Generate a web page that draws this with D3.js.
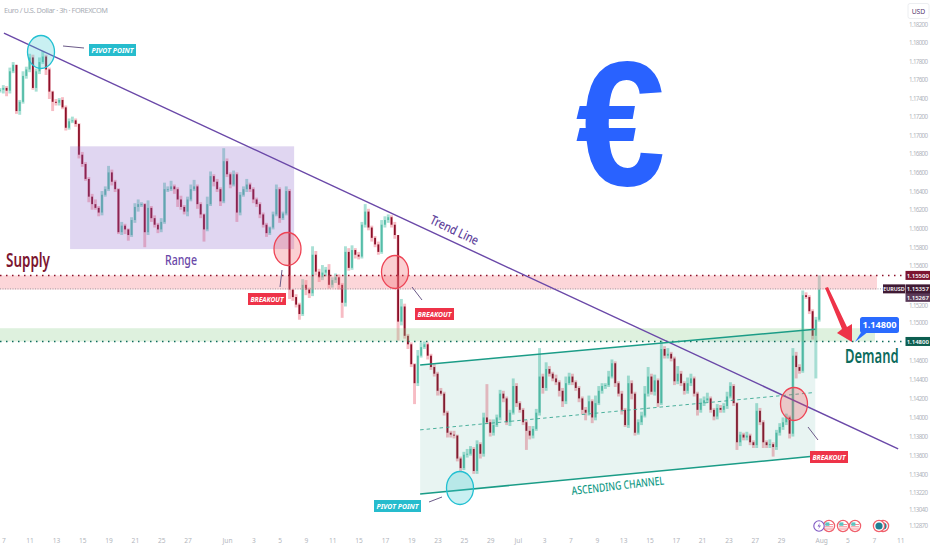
<!DOCTYPE html>
<html><head><meta charset="utf-8">
<script src="https://cdn.jsdelivr.net/npm/d3@7"></script>
<style>html,body{margin:0;padding:0;background:#fff;overflow:hidden}svg{display:block}text{font-family:"Noto Sans",sans-serif}</style>
</head><body><div id="c"></div>
<script>
const title = "Euro / U.S. Dollar · 3h · FOREXCOM";
const priceTicks = [1.182,1.18,1.178,1.176,1.174,1.172,1.17,1.168,1.166,1.164,1.162,1.16,1.158,1.156,1.152,1.15,1.146,1.144,1.142,1.14,1.138,1.136,1.134,1.1322,1.1304,1.1287];
const dateLabels = ["7","11","13","15","19","21","25","27","Jun","3","5","9","11","15","17","19","23","25","29","Jul","3","7","9","13","15","17","21","23","27","29","Aug","5","7","11"];
const dateBars = [1,9,17,25,33,41,49,57,69,77,85,93,101,109,117,125,133,141,149,157.4,165.4,173.4,181.4,189.4,197.4,205.4,213.4,221.4,229.4,237.4,249.6,257.6,265.6,273.6];
const closes = [
1.1749,1.1751,1.1748,1.1769,1.1776,1.1726,1.1736,1.1764,1.1771,1.1784,
1.1751,1.1769,1.1779,1.1785,1.1771,1.1747,1.1736,1.1735,1.1738,1.1730,
1.1708,1.1715,1.1716,1.1712,1.1679,1.1669,1.1653,1.1634,1.1626,1.1622,
1.1617,1.1636,1.1642,1.1660,1.1650,1.1642,1.1596,1.1603,1.1599,1.1593,
1.1609,1.1623,1.1626,1.1626,1.1596,1.1622,1.1611,1.1604,1.1599,1.1607,
1.1642,1.1642,1.1645,1.1642,1.1631,1.1623,1.1618,1.1631,1.1642,1.1645,
1.1626,1.1615,1.1599,1.1626,1.1656,1.1650,1.1642,1.1629,1.1672,1.1658,
1.1647,1.1658,1.1617,1.1636,1.1642,1.1647,1.1642,1.1631,1.1626,1.1615,
1.1604,1.1595,1.1601,1.1615,1.1642,1.1611,1.1616,1.1640,1.1535,1.1527,
1.1519,1.1509,1.1540,1.1535,1.1531,1.1572,1.1554,1.1548,1.1553,1.1556,
1.1540,1.1545,1.1548,1.1540,1.1521,1.1575,1.1558,1.1577,1.1572,1.1570,
1.1604,1.1618,1.1601,1.1590,1.1583,1.1575,1.1604,1.1609,1.1612,1.1604,
1.1593,1.1501,1.1517,1.1486,1.1477,1.1456,1.1436,1.1465,1.1474,1.1477,
1.1465,1.1453,1.1446,1.1428,1.1425,1.1405,1.1384,1.1382,1.1381,1.1357,
1.1347,1.1361,1.1362,1.1367,1.1344,1.1372,1.1362,1.1400,1.1395,1.1384,
1.1392,1.1400,1.1425,1.1420,1.1395,1.1405,1.1433,1.1415,1.1408,1.1395,
1.1386,1.1381,1.1388,1.1405,1.1443,1.1431,1.1451,1.1446,1.1441,1.1437,
1.1428,1.1417,1.1436,1.1443,1.1437,1.1431,1.1420,1.1408,1.1405,1.1417,
1.1400,1.1415,1.1428,1.1433,1.1434,1.1443,1.1457,1.1436,1.1425,1.1408,
1.1392,1.1436,1.1425,1.1384,1.1395,1.1402,1.1425,1.1443,1.1427,1.1439,
1.1415,1.1472,1.1465,1.1467,1.1462,1.1438,1.1446,1.1436,1.1428,1.1436,
1.1441,1.1425,1.1408,1.1415,1.1418,1.1420,1.1408,1.1401,1.1410,1.1408,
1.1412,1.1422,1.1433,1.1415,1.1374,1.1382,1.1379,1.1381,1.1374,1.1371,
1.1407,1.1395,1.1374,1.1371,1.1372,1.1369,1.1384,1.1390,1.1395,1.1400,
1.1383,1.1465,1.1453,1.1449,1.1529,1.1527,1.1512,1.1486,1.1503,1.1535];
const wickUpPips = [
2,3,2,4,3,0,2,5,3,4, 3,3,5,6,2,2,1,3,2,3, 2,3,4,2,1,3,2,2,3,5, 2,4,3,7,3,2,1,4,2,1,
3,4,5,2,1,8,2,3,2,4, 7,3,6,2,2,4,2,3,5,7, 2,2,1,8,5,2,3,2,14,3, 2,4,2,3,3,6,2,2,2,2,
2,2,1,3,5,2,2,5,2,0, 3,2,6,5,2,9,4,3,8,3, 6,3,4,3,2,6,4,5,2,3, 3,8,3,2,2,3,5,4,3,2,
3,0,8,3,2,2,1,6,5,3, 2,2,3,2,3,2,2,2,4,1, 2,3,5,3,2,4,2,5,35,3, 6,3,4,3,2,3,8,3,2,2,
2,5,3,4,30,3,7,3,2,4, 2,3,7,4,3,2,2,2,3,6, 2,8,5,3,2,6,4,2,2,3, 2,8,3,2,3,4,8,10,3,6,
2,9,3,6,2,2,8,3,2,6, 5,2,2,5,4,6,2,2,4,3, 3,5,4,2,1,3,2,4,2,2, 8,3,2,2,5,2,3,4,5,4,
2,8,4,3,5,3,2,2,3,15];
const wickDownPips = [
3,4,6,3,2,3,4,2,3,3, 2,4,3,2,6,8,10,3,3,2, 3,2,2,3,4,3,2,6,6,2, 4,3,2,2,4,3,2,3,5,6,
2,3,5,3,16,3,4,3,4,3, 2,3,2,5,8,3,3,5,2,2, 5,4,13,2,2,5,3,5,2,3, 4,2,10,3,2,3,3,4,3,4,
3,4,2,2,2,5,2,2,10,4, 3,6,2,6,5,3,4,5,3,4, 4,3,3,5,16,4,3,2,4,3, 2,3,3,4,3,3,2,3,3,3,
4,20,4,3,5,3,22,3,2,2, 4,3,3,5,2,3,5,3,3,3, 4,2,3,2,3,3,5,3,2,4, 3,2,3,4,3,4,2,4,3,3,
20,4,3,2,3,6,3,3,3,3, 6,6,3,2,3,3,4,5,8,3, 6,3,2,3,3,2,2,4,3,5, 2,3,6,3,2,3,2,3,3,4,
4,2,3,3,3,4,3,3,4,3, 3,3,6,3,3,2,3,4,3,3, 3,3,2,3,8,4,3,3,3,3, 3,3,6,3,3,10,3,3,3,3,
5,3,12,3,2,2,3,4,45,2];
const supplyLevel = 1.155, supplyBase = 1.1535, demandLevel = 1.148, demandTop = 1.1494;
const lastPrice = 1.15357, secondPrice = 1.15267;
const trendLine = [[1.2,1.18105],[273,1.1367]];
const channelTop = [[127.7,1.14552],[247.8,1.1493]];
const channelMid = [[127.7,1.1387],[246.9,1.1426]];
const channelLow = [[127.7,1.1320],[246.3,1.1359]];
const rangeBox = {bars:[21.3,89.4], prices:[1.1688,1.1578]};

const W=932,H=550;
const x=d3.scaleLinear().domain([0,250]).range([0,822.5]);
const y=d3.scaleLog().domain([1.156,1.182]).range([266,24.3]);
const svg=d3.select("#c").append("svg").attr("width",W).attr("height",H);
const pt=p=>[x(p[0]),y(p[1])];
const line=d3.line().x(d=>x(d[0])).y(d=>y(d[1]));

// candles
const candles=closes.map((c,i)=>{const o=i?closes[i-1]:c;return{i,o,c,h:Math.max(o,c)+wickUpPips[i]/1e4,l:Math.min(o,c)-wickDownPips[i]/1e4,up:c>=o}});
const g=svg.append("g");
g.selectAll(".w").data(candles).join("line").attr("x1",d=>x(d.i)).attr("x2",d=>x(d.i)).attr("y1",d=>y(d.h)).attr("y2",d=>y(d.l))
 .attr("stroke",d=>d.up?"#a9e0d5":"#f7bcc4").attr("stroke-width",2.9);
g.selectAll(".b").data(candles).join("rect").attr("x",d=>x(d.i)-0.9).attr("width",1.8)
 .attr("y",d=>Math.min(y(d.o),y(d.c))).attr("height",d=>Math.max(1,Math.abs(y(d.o)-y(d.c))))
 .attr("fill",d=>d.up?"#55bda8":"#8c1029");

// zones
svg.append("rect").attr("x",x(rangeBox.bars[0])).attr("width",x(rangeBox.bars[1])-x(rangeBox.bars[0])).attr("y",y(rangeBox.prices[0])).attr("height",y(rangeBox.prices[1])-y(rangeBox.prices[0])).attr("fill","rgba(135,95,200,.26)");
svg.append("rect").attr("x",0).attr("width",877).attr("y",y(supplyLevel)).attr("height",y(supplyBase)-y(supplyLevel)).attr("fill","rgba(246,135,145,.34)");
svg.append("rect").attr("x",0).attr("width",875).attr("y",y(demandTop)).attr("height",y(demandLevel)-y(demandTop)).attr("fill","rgba(135,205,135,.28)");
const chanPoly=[pt(channelTop[0]),pt(channelTop[1]),pt(channelLow[1]),pt(channelLow[0])];
svg.append("polygon").attr("points",[chanPoly[0],chanPoly[1],[chanPoly[1][0],chanPoly[2][1]],chanPoly[3]].join(" ")).attr("fill","rgba(30,150,125,.10)");

// levels
const dotted=(p,col,x2)=>svg.append("line").attr("x1",0).attr("x2",x2).attr("y1",y(p)).attr("y2",y(p)).attr("stroke",col).attr("stroke-width",1.5).attr("stroke-dasharray","1.5 4.5");
dotted(supplyLevel,"#8c1029",906);
dotted(demandLevel,"#0c6b5c",906);
svg.append("line").attr("x1",0).attr("x2",884).attr("y1",y(lastPrice)).attr("y2",y(lastPrice)).attr("stroke","#9a9aa0").attr("stroke-width",.9).attr("stroke-dasharray","1 1.5");

// trend / channel
svg.append("path").attr("d",line(trendLine)).attr("stroke","#6a48a8").attr("stroke-width",1.4).attr("fill","none");
svg.append("path").attr("d",line(channelTop)).attr("stroke","#1b9c87").attr("stroke-width",1.5).attr("fill","none");
svg.append("path").attr("d",line(channelLow)).attr("stroke","#1b9c87").attr("stroke-width",1.5).attr("fill","none");
svg.append("path").attr("d",line(channelMid)).attr("stroke","#3aa893").attr("stroke-width",.9).attr("stroke-dasharray","3.5 3").attr("fill","none");

// markers
const ell=(cx,cy,col,fill)=>svg.append("ellipse").attr("cx",cx).attr("cy",cy).attr("rx",13.5).attr("ry",16.5).attr("fill",fill).attr("stroke",col).attr("stroke-width",1.3);
const cyan=["#22c0d2","rgba(60,200,210,.28)"],red=["#ee4455","rgba(240,80,90,.27)"];
ell(41,52,...cyan);ell(460,488,...cyan);ell(287.5,249,...red);ell(395,272,...red);ell(794,404,...red);
const tick=(a,b,c,d)=>svg.append("line").attr("x1",a).attr("y1",b).attr("x2",c).attr("y2",d).attr("stroke","#6b5a88").attr("stroke-width",1);
tick(63,46,84,48);tick(282,270,280,287);tick(412,287,422,300);tick(429,502,442,497);tick(808,427,818,440);

// badges
const badge=(x0,y0,w,t,col)=>{svg.append("rect").attr("x",x0).attr("y",y0).attr("width",w).attr("height",12).attr("fill",col);
 svg.append("text").attr("x",x0+w/2).attr("y",y0+9).attr("text-anchor","middle").attr("fill","#fff").attr("font-size",7.6).attr("font-weight",700).attr("font-style","italic").attr("textLength",w-5).attr("lengthAdjust","spacingAndGlyphs").text(t)};
badge(89,44,47,"PIVOT POINT","#26bccd");badge(374,500,47,"PIVOT POINT","#26bccd");
badge(248,293,38,"BREAKOUT","#ee3348");badge(415,308,39,"BREAKOUT","#ee3348");badge(810,451,38,"BREAKOUT","#ee3348");

// labels
const lab=(t,px,py,size,col,len,rot,weight)=>{const e=svg.append("text").attr("x",px).attr("y",py).attr("font-size",size).attr("fill",col).attr("font-weight",weight||500).attr("textLength",len).attr("lengthAdjust","spacingAndGlyphs").text(t);if(rot)e.attr("transform",`rotate(${rot} ${px} ${py})`)};
lab("Supply",6,267,19,"#7c1530",44,0,600);
lab("Range",165,265,14,"#6a48a8",32,0);
lab("Trend Line",429,223,13,"#5f449c",52,25.5);
lab("ASCENDING CHANNEL",572,495,11.5,"#139a86",93,-6.5);
svg.append("text").attr("transform","translate(845,363) scale(.65,1)").attr("font-size",20).attr("font-weight",600).attr("fill","#0c6b5c").text("Demand");

// euro
svg.append("text").attr("transform","translate(620.5,185) scale(.92,1.02)").attr("text-anchor","middle").attr("font-size",175).attr("font-weight",700).attr("fill","#2962ff").style("font-family","'Liberation Sans'").text("€");

// arrow + callout
svg.append("polygon").attr("points",[[825,288],[828,287],[847,327],[852,324],[852,342],[837,333],[842,329]].join(" ")).attr("fill","#ee3348");
svg.append("path").attr("d","M855 342 L862 331 L869 331 Z").attr("fill","#2a6bff");
svg.append("rect").attr("x",860).attr("y",317).attr("width",39).attr("height",16).attr("rx",2.5).attr("fill","#2a6bff");
svg.append("text").attr("x",879.5).attr("y",328).attr("text-anchor","middle").attr("font-size",9.2).attr("font-weight",700).attr("fill","#fff").text("1.14800");

// axes text
svg.append("text").attr("x",4).attr("y",13).attr("font-size",7.4).attr("fill","#a9adb5").attr("textLength",104).text(title);
const yAxis=svg.append("g").attr("transform","translate(909,0)").call(d3.axisRight(y).tickValues(priceTicks).tickSize(0).tickPadding(0).tickFormat(d3.format(".5f")));
yAxis.select(".domain").remove();
yAxis.selectAll("text").attr("font-size",6.2).attr("fill","#b2b5bc").style("font-family","'Noto Sans',sans-serif").attr("textLength",19);
yAxis.selectAll("text").filter(d=>d===1.152).attr("dy","0.6em");
const xAxis=svg.append("g").attr("transform","translate(0,538)").call(d3.axisBottom(x).tickValues(dateBars).tickSize(0).tickPadding(0).tickFormat((d,i)=>dateLabels[i]));
xAxis.select(".domain").remove();
xAxis.selectAll("text").attr("font-size",6.6).attr("fill","#b2b5bc").style("font-family","'Noto Sans',sans-serif");

// usd box
svg.append("rect").attr("x",908).attr("y",3.5).attr("width",21).attr("height",15).attr("rx",2).attr("fill","#fff").attr("stroke","#eceef1");
svg.append("text").attr("x",918.5).attr("y",13.5).attr("text-anchor","middle").attr("font-size",6.8).attr("fill","#5a3a70").text("USD");

// price tags
const tag=(x0,w,p,t,col,fs)=>{const c=y(p);svg.append("rect").attr("x",x0).attr("y",c-4.5).attr("width",w).attr("height",9).attr("fill",col);
 svg.append("text").attr("x",x0+w/2).attr("y",c+2.2).attr("text-anchor","middle").attr("font-size",fs||6).attr("font-weight",600).attr("fill","#fff").text(t)};
tag(905.5,24.5,supplyLevel,"1.15500","#7c1530");
tag(905.5,24.5,secondPrice,"1.15267","#5a3a58");
tag(883,22,lastPrice,"EURUSD","#3f1a34",5.4);
tag(905.5,24.5,lastPrice,"1.15357","#3f1a34");
tag(905.5,24.5,demandLevel,"1.14800","#0c5e50");

// event icons
const icons=[819,829,843,855,883,879];
icons.slice(1).forEach(c=>{svg.append("circle").attr("cx",c).attr("cy",526).attr("r",5.6).attr("fill","#fff").attr("stroke","#f0606c").attr("stroke-width",1.3);
 if(c<870){[524.5,526.8,529].forEach(v=>svg.append("line").attr("x1",c-4).attr("x2",c+4).attr("y1",v).attr("y2",v).attr("stroke","#f38a93").attr("stroke-width",1));
 svg.append("rect").attr("x",c-3.6).attr("y",522.4).attr("width",4).attr("height",3.4).attr("fill","#5cc3c0");}
 else svg.append("circle").attr("cx",c).attr("cy",526).attr("r",3.6).attr("fill","#1f7f92");});
svg.append("circle").attr("cx",819).attr("cy",526).attr("r",5.2).attr("fill","#fff").attr("stroke","#7e57c2").attr("stroke-width",1.1);
svg.append("path").attr("d","M820 522.5 L817.5 526.5 L819.5 526.5 L818 529.5 L821 525.5 L819 525.5 Z").attr("fill","#7e57c2");
</script></body></html>
